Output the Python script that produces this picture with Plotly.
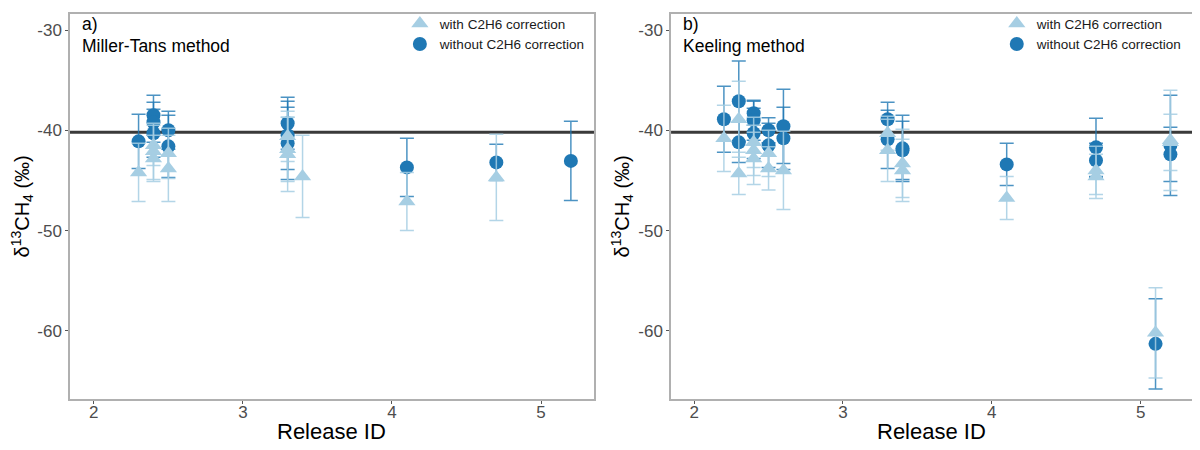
import plotly.graph_objects as go

# reference value of the source gas (horizontal line)
REF_D13C = -40.2

# --- a) Miller-Tans method ---
mt_with_x = [2.3, 2.4, 2.4, 2.4, 2.5, 2.5, 3.3, 3.3, 3.3, 3.4, 4.1, 4.7]
mt_with_y = [-44.2, -41.5, -42.1, -42.8, -42.3, -43.8, -40.6, -41.9, -42.4, -44.6, -47.1, -44.7]
mt_with_err = [2.9, 2.0, 2.8, 2.3, 2.5, 3.3, 2.5, 3.2, 3.7, 4.1, 2.9, 4.3]

mt_without_x = [2.3, 2.4, 2.4, 2.4, 2.5, 2.5, 3.3, 3.3, 3.3, 4.1, 4.7, 5.2]
mt_without_y = [-41.1, -38.5, -39.2, -40.3, -40.0, -41.6, -39.3, -40.5, -41.3, -43.7, -43.2, -43.05]
mt_without_err = [2.7, 2.0, 2.0, 2.4, 1.9, 3.1, 2.6, 3.4, 3.6, 2.9, 1.8, 3.95]

# --- b) Keeling method ---
kl_with_x = [2.2, 2.3, 2.3, 2.4, 2.4, 2.4, 2.5, 2.5, 2.6, 3.3, 3.3, 3.4, 3.4, 4.1, 4.7, 4.7, 5.1, 5.2, 5.2]
kl_with_y = [-40.8, -38.9, -44.3, -41.2, -42.0, -42.8, -42.3, -43.8, -44.0, -40.3, -42.0, -43.3, -44.0,
             -46.75, -44.0, -44.6, -60.2, -41.0, -41.2]
kl_with_err = [3.3, 3.8, 2.1, 2.5, 2.5, 2.6, 2.3, 2.15, 3.9, 1.7, 3.1, 3.4, 3.1, 2.15, 2.4, 2.2, 4.5, 5.0, 2.8]

kl_without_x = [2.2, 2.3, 2.3, 2.4, 2.4, 2.4, 2.5, 2.5, 2.6, 2.6, 3.3, 3.3, 3.4, 3.4, 4.1, 4.7, 4.7, 5.1, 5.2, 5.2]
kl_without_y = [-38.9, -37.1, -41.2, -38.3, -39.0, -40.3, -40.0, -41.5, -39.6, -40.8, -38.9, -40.9, -41.8, -42.0,
                -43.4, -41.7, -43.0, -61.3, -41.5, -42.4]
kl_without_err = [3.3, 4.0, 2.0, 1.2, 2.0, 2.5, 1.25, 2.2, 3.7, 3.1, 1.7, 2.9, 3.3, 2.9, 2.1, 2.9, 1.7, 4.5, 5.0, 2.7]

y_ticks = [-30, -40, -50, -60]
x_ticks = [2, 3, 4, 5]

DARK = '#1f78b4'
LIGHT = '#a6cee3'
FONT = 'Liberation Sans, Arial, sans-serif'

fig = go.Figure()

panels = [
    ('x', 'y', 'legend', mt_with_x, mt_with_y, mt_with_err, mt_without_x, mt_without_y, mt_without_err),
    ('x2', 'y2', 'legend2', kl_with_x, kl_with_y, kl_with_err, kl_without_x, kl_without_y, kl_without_err),
]

for xa, ya, leg, wx, wy, we, ox, oy, oe in panels:
    # circles first so the triangles sit on top
    fig.add_trace(go.Scatter(
        x=ox, y=oy, mode='markers', xaxis=xa, yaxis=ya, legend=leg,
        name='without C2H6 correction',
        marker=dict(symbol='circle', size=14, color=DARK),
        error_y=dict(type='data', array=oe, visible=True, color='rgba(31,120,180,0.8)',
                     thickness=1.5, width=7),
    ))
    fig.add_trace(go.Scatter(
        x=wx, y=wy, mode='markers', xaxis=xa, yaxis=ya, legend=leg,
        name='with C2H6 correction',
        marker=dict(symbol='triangle-up', size=15, color=LIGHT),
        error_y=dict(type='data', array=we, visible=True, color='rgba(166,206,227,0.85)',
                     thickness=1.5, width=7),
    ))

axis_common = dict(
    showgrid=False, zeroline=False, showline=True, mirror=True,
    linecolor='#b0b0b0', linewidth=1.5,
    ticks='outside', ticklen=3, tickcolor='#555555', tickwidth=1,
    tickfont=dict(family=FONT, size=17, color='#4d4d4d'),
)

legend_common = dict(
    font=dict(family=FONT, size=13.5, color='#1a1a1a'),
    bgcolor='rgba(0,0,0,0)', traceorder='reversed',
    yanchor='top', y=1.015, xanchor='left',
    tracegroupgap=0, itemwidth=30,
)

y_range = [-66.8, -28.4]

# the page puts the figure 8 px in from the top-left corner
fig.update_layout(
    width=1192, height=442,
    margin=dict(l=62, r=8, t=0, b=51),
    plot_bgcolor='white', paper_bgcolor='white',
    showlegend=True,
    xaxis=dict(domain=[0, 0.467], range=[1.84, 5.355], tickvals=x_ticks, anchor='y',
               ticklabelstandoff=-6, **axis_common),
    yaxis=dict(domain=[0, 1], range=y_range, tickvals=y_ticks,
               ticktext=[str(v) for v in y_ticks], anchor='x', **axis_common),
    xaxis2=dict(domain=[0.5357, 1], range=[1.845, 5.345], tickvals=x_ticks, anchor='y2',
                ticklabelstandoff=-6, **axis_common),
    yaxis2=dict(domain=[0, 1], range=y_range, tickvals=y_ticks,
                ticktext=[str(v) for v in y_ticks], anchor='x2', **axis_common),
    legend=dict(x=0.294, **legend_common),
    legend2=dict(x=0.826, **legend_common),
)

# reference line
for xa, ya in [('x', 'y'), ('x2', 'y2')]:
    fig.add_shape(type='line', xref=f'{xa} domain', yref=ya, x0=0, x1=1, y0=REF_D13C, y1=REF_D13C,
                  line=dict(color='#3a3a3a', width=3), layer='below')

# panel labels
for xa, ya, tag, method in [('x', 'y', 'a)', 'Miller-Tans method'), ('x2', 'y2', 'b)', 'Keeling method')]:
    for txt, yy in [(tag, 0.975), (method, 0.918)]:
        fig.add_annotation(xref=f'{xa} domain', yref=f'{ya} domain', x=0.02, y=yy,
                           xanchor='left', yanchor='middle', align='left', showarrow=False,
                           text=txt, font=dict(family=FONT, size=17.5, color='black'))

# axis titles
for xa, ya, xpix in [('x', 'y', 22), ('x2', 'y2', 622)]:
    fig.add_annotation(xref='paper', yref=f'{ya} domain', x=(xpix - 70) / 1122, y=0.5,
                       xanchor='center', yanchor='middle', textangle=-90, showarrow=False,
                       text='δ<sup>13</sup>CH<sub>4</sub> (‰)',
                       font=dict(family=FONT, size=20, color='black'))
    fig.add_annotation(xref=f'{xa} domain', yref='paper', x=0.5, y=-0.046,
                       xanchor='center', yanchor='top', showarrow=False,
                       text='Release ID', font=dict(family=FONT, size=22, color='black'))

fig.write_html("out.html")
